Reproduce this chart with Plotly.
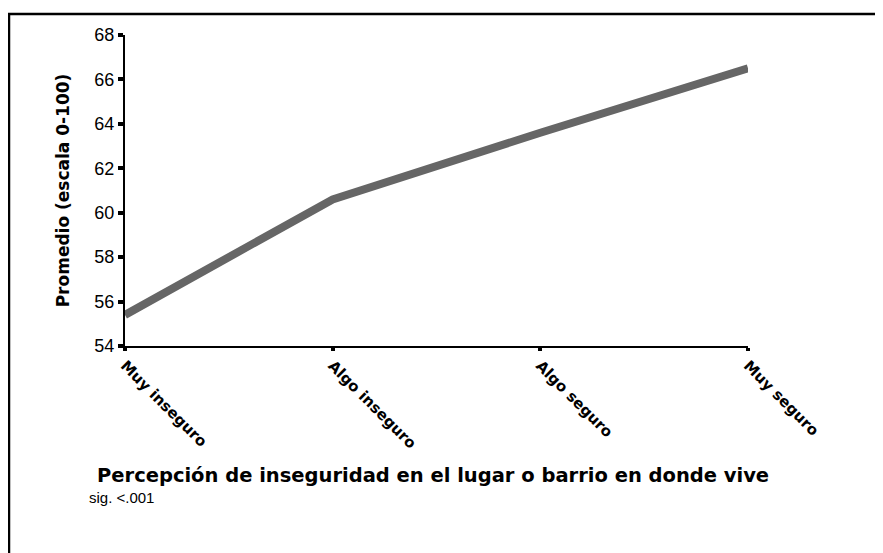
import plotly.graph_objects as go

categories = ["Muy inseguro", "Algo inseguro", "Algo seguro", "Muy seguro"]
values = [55.4, 60.6, 63.6, 66.5]
y_ticks = [54, 56, 58, 60, 62, 64, 66, 68]

# page body has an 8px margin, so figure pixel = window pixel - 8
OFF = 8
W, H = 875, 545
L, R, T, B = 125 - OFF, 135, 34.5 - OFF, 207
pw, ph = W - L - R, H - T - B

def px(x):
    return (x - OFF - L) / pw

def py(y):
    return (H - B - (y - OFF)) / ph

fig = go.Figure()
fig.add_trace(go.Scatter(
    x=list(range(len(categories))), y=values, mode="lines",
    line=dict(color="#666666", width=8), hoverinfo="skip", showlegend=False,
))

fig.update_layout(
    width=W, height=H,
    margin=dict(l=L, r=R, t=T, b=B),
    paper_bgcolor="white", plot_bgcolor="white",
    font=dict(family="Liberation Sans, Arial, sans-serif", color="black"),
    xaxis=dict(
        range=[0, 3], tickmode="array", tickvals=list(range(len(categories))),
        ticktext=categories, tickangle=45,
        tickfont=dict(size=15, family="DejaVu Sans, sans-serif", weight="bold"),
        showgrid=False, zeroline=False, showline=True, linecolor="black", linewidth=2,
        ticks="outside", ticklen=3, tickwidth=4, tickcolor="black",
    ),
    yaxis=dict(
        range=[54, 68], tickmode="array", tickvals=y_ticks,
        tickfont=dict(size=18),
        showgrid=False, zeroline=False, showline=True, linecolor="black", linewidth=2,
        ticks="outside", ticklen=5, tickwidth=4, tickcolor="black",
        title=dict(text="Promedio (escala 0-100)", standoff=20,
                   font=dict(size=17, weight="bold", family="DejaVu Sans, sans-serif")),
    ),
    shapes=[
        dict(type="line", xref="paper", yref="paper", x0=px(8), x1=px(895), y0=py(13.5), y1=py(13.5),
             line=dict(color="black", width=2.5)),
        dict(type="line", xref="paper", yref="paper", x0=px(9), x1=px(9), y0=py(13), y1=py(560),
             line=dict(color="black", width=2.5)),
    ],
    annotations=[
        dict(text="<b>Percepción de inseguridad en el lugar o barrio en donde vive</b>",
             xref="paper", yref="paper", x=px(433), y=py(476), showarrow=False,
             xanchor="center", yanchor="middle",
             font=dict(size=19.5, family="DejaVu Sans, sans-serif")),
        dict(text="sig. <.001", xref="paper", yref="paper", x=px(87), y=py(498),
             showarrow=False, xanchor="left", yanchor="middle",
             font=dict(size=15, family="Liberation Sans Narrow, Arial Narrow, sans-serif")),
    ],
)

fig.write_html("out.html")
